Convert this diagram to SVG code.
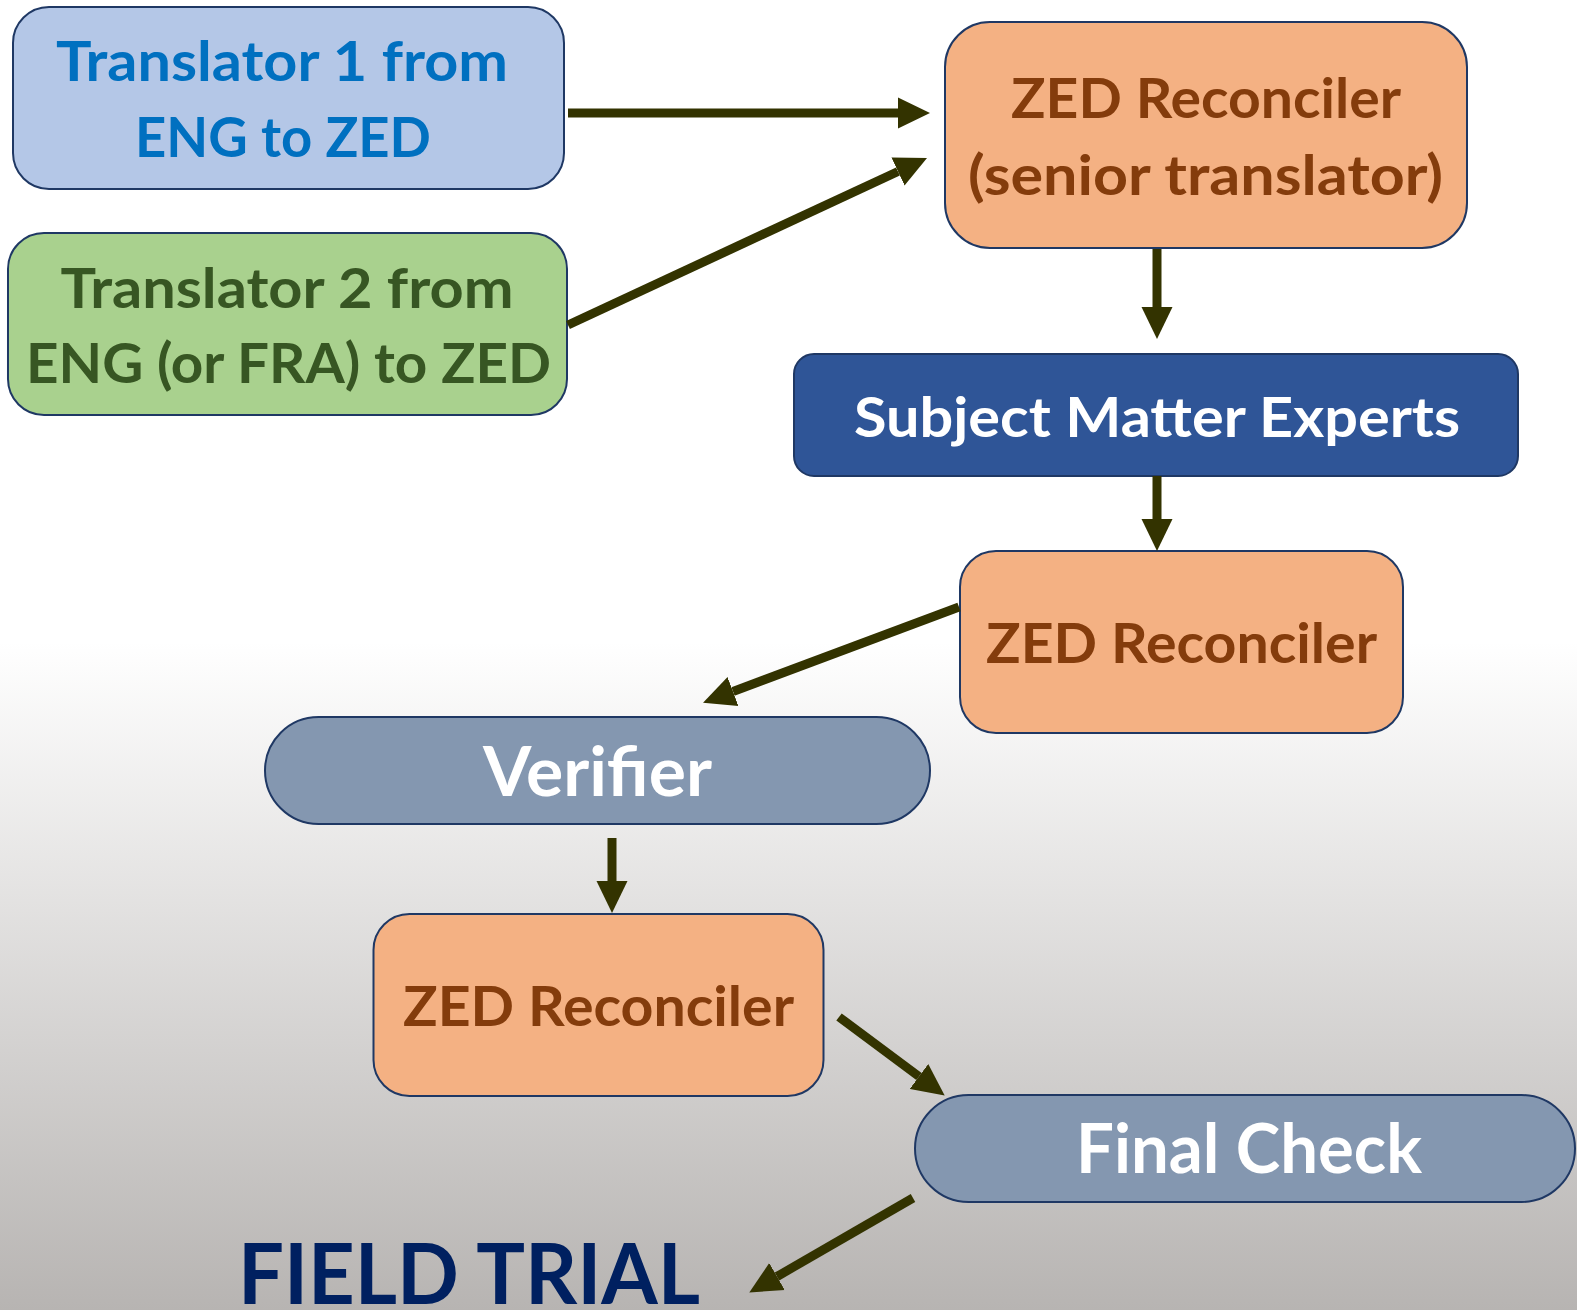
<svg xmlns="http://www.w3.org/2000/svg" width="1577" height="1310" viewBox="0 0 1577 1310">
  <defs>
    <linearGradient id="bg" x1="0" y1="0" x2="0" y2="1310" gradientUnits="userSpaceOnUse">
      <stop offset="0" stop-color="#ffffff"/>
      <stop offset="0.49" stop-color="#ffffff"/>
      <stop offset="1" stop-color="#b7b4b2"/>
    </linearGradient>
    <marker id="ah" viewBox="0 -16 32 32" markerWidth="32" markerHeight="32" refX="0" refY="0" orient="auto" markerUnits="userSpaceOnUse">
      <path d="M0,-15.5 L32,0 L0,15.5 z" fill="#333300"/>
    </marker>
  </defs>
  <style>
    .box { stroke: #1f3864; stroke-width: 2; }
    .t { font-family: Lato, "Open Sans", "Liberation Sans", sans-serif; font-weight: bold; text-anchor: middle; }
    .s { font-size: 55px; }
    .l { font-size: 68px; }
    .orange { fill: #f4b183; }
    .ot { fill: #843c0c; }
    .pill { fill: #8497b0; }
    .conn line { stroke: #333300; stroke-width: 9; marker-end: url(#ah); }
  </style>
  <rect width="1577" height="1310" fill="url(#bg)"/>

  <g id="translator1">
    <rect class="box" x="13" y="7" width="551" height="182" rx="36" fill="#b4c7e7"/>
    <text class="t s" x="282" y="81" fill="#0070c0" textLength="452" lengthAdjust="spacingAndGlyphs">Translator 1 from</text>
    <text class="t s" x="283" y="157" fill="#0070c0" textLength="296" lengthAdjust="spacingAndGlyphs">ENG to ZED</text>
  </g>

  <g id="translator2">
    <rect class="box" x="8" y="233" width="559" height="182" rx="36" fill="#a9d18e"/>
    <text class="t s" x="287" y="308" fill="#375623" textLength="453" lengthAdjust="spacingAndGlyphs">Translator 2 from</text>
    <text class="t s" x="288.5" y="383" fill="#375623" textLength="525" lengthAdjust="spacingAndGlyphs">ENG (or FRA) to ZED</text>
  </g>

  <g id="reconciler1">
    <rect class="box orange" x="945" y="22" width="522" height="226" rx="45"/>
    <text class="t s ot" x="1206" y="118" textLength="390" lengthAdjust="spacingAndGlyphs">ZED Reconciler</text>
    <text class="t s ot" x="1205.5" y="195" textLength="475" lengthAdjust="spacingAndGlyphs">(senior translator)</text>
  </g>

  <g id="sme">
    <rect class="box" x="794" y="354" width="724" height="122" rx="20" fill="#2f5597"/>
    <text class="t s" x="1157" y="437" fill="#ffffff" textLength="606" lengthAdjust="spacingAndGlyphs">Subject Matter Experts</text>
  </g>

  <g id="reconciler2">
    <rect class="box orange" x="960" y="551" width="443" height="182" rx="36"/>
    <text class="t s ot" x="1181.5" y="663" textLength="391" lengthAdjust="spacingAndGlyphs">ZED Reconciler</text>
  </g>

  <g id="verifier">
    <rect class="box pill" x="265" y="717" width="665" height="107" rx="53.5"/>
    <text class="t l" x="597.5" y="796" fill="#ffffff" textLength="229" lengthAdjust="spacingAndGlyphs">Verifier</text>
  </g>

  <g id="reconciler3">
    <rect class="box orange" x="373.5" y="914" width="450" height="182" rx="36"/>
    <text class="t s ot" x="598.5" y="1026" textLength="391" lengthAdjust="spacingAndGlyphs">ZED Reconciler</text>
  </g>

  <g id="finalcheck">
    <rect class="box pill" x="915" y="1095" width="660" height="107" rx="53.5"/>
    <text class="t l" x="1249" y="1173" fill="#ffffff" textLength="346" lengthAdjust="spacingAndGlyphs">Final Check</text>
  </g>

  <g id="fieldtrial">
    <text class="t" x="469" y="1304" font-size="84" fill="#002060" textLength="462" lengthAdjust="spacingAndGlyphs">FIELD TRIAL</text>
  </g>

  <g id="connectors" class="conn">
    <line x1="568" y1="113" x2="898" y2="113"/>
    <line x1="568" y1="325" x2="898" y2="171.5"/>
    <line x1="1157" y1="249" x2="1157" y2="307"/>
    <line x1="1157" y1="476" x2="1157" y2="519"/>
    <line x1="959" y1="607" x2="733" y2="691.5"/>
    <line x1="612" y1="838" x2="612" y2="881"/>
    <line x1="839" y1="1017" x2="919" y2="1076.5"/>
    <line x1="913" y1="1198" x2="777" y2="1276.5"/>
  </g>
</svg>
